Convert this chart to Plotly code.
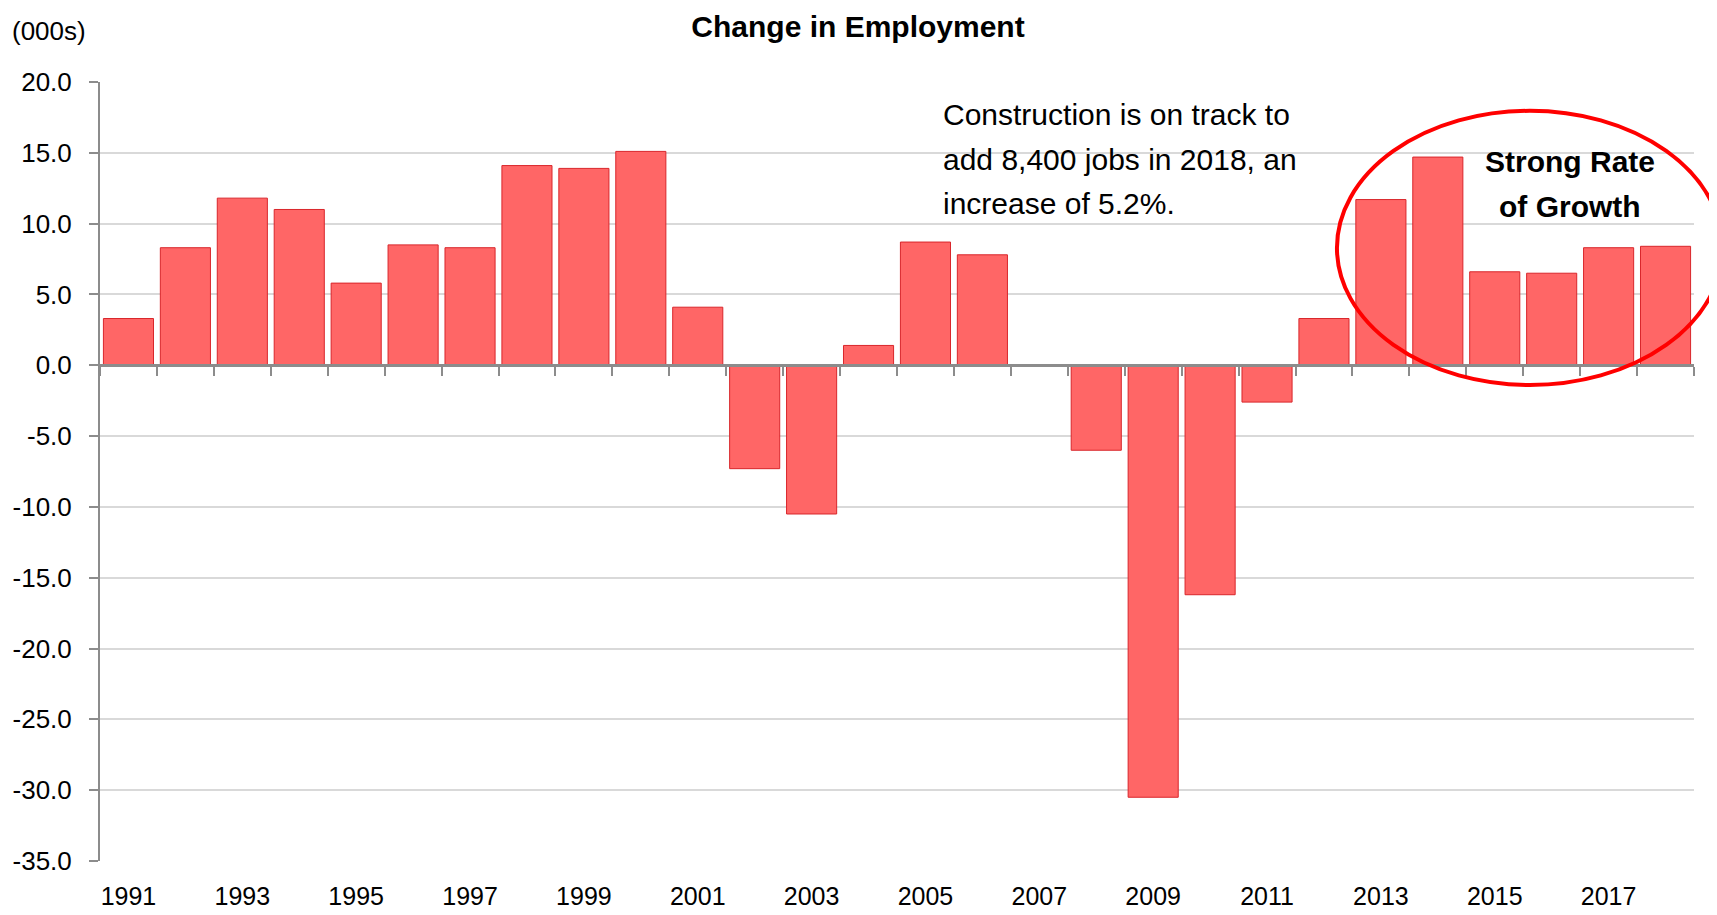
import plotly.graph_objects as go

years = list(range(1991, 2019))
change = [3.3, 8.3, 11.8, 11.0, 5.8, 8.5, 8.3, 14.1, 13.9, 15.1,
          4.1, -7.3, -10.5, 1.4, 8.7, 7.8, 0.0, -6.0, -30.5, -16.2,
          -2.6, 3.3, 11.7, 14.7, 6.6, 6.5, 8.3, 8.4]
label_years = [y for y in years if y % 2 == 1]
y_ticks = [20, 15, 10, 5, 0, -5, -10, -15, -20, -25, -30, -35]
note_lines = ["Construction is on track to", "add 8,400 jobs in 2018, an", "increase of 5.2%."]
callout_lines = ["Strong Rate", "of Growth"]

FONT = "Liberation Sans, Arial, sans-serif"
boundaries = [years[0] - 0.5] + [y + 0.5 for y in years]
xr = [years[0] - 0.5, years[-1] + 0.5]
yr = [min(y_ticks), max(y_ticks)]

# page body has an 8px margin; size the figure so the plot area lands where the reference has it
W, H, OFF = 1709, 907, 8
PW, PH = 1594, 779  # plot area size in px

fig = go.Figure()
fig.add_trace(go.Bar(
    x=years, y=change,
    marker=dict(color="#ff6666", line=dict(color="#d9262b", width=1)),
    width=0.88, showlegend=False, hoverinfo="x+y",
))
fig.add_trace(go.Scatter(x=xr, y=[0, 0], xaxis="x2", mode="lines",
                         line=dict(width=0), showlegend=False, hoverinfo="skip"))

annotations = [
    dict(text="(000s)", xref="paper", yref="paper", x=-90 / PW, y=1 + 51 / PH,
         xanchor="left", yanchor="middle", showarrow=False,
         font=dict(size=26, family=FONT)),
]
for i, line in enumerate(note_lines):
    annotations.append(dict(text=line, xref="paper", yref="paper",
                            x=(941 - 100) / PW, y=(861 - (114 + 45 * i)) / PH,
                            xanchor="left", yanchor="middle", showarrow=False,
                            font=dict(size=30, family=FONT)))
for i, line in enumerate(callout_lines):
    annotations.append(dict(text=f"<b>{line}</b>", xref="paper", yref="paper",
                            x=(1570 - 100) / PW, y=(861 - (162 + 44 * i)) / PH,
                            xanchor="center", yanchor="middle", showarrow=False,
                            font=dict(size=30, family=FONT)))

fig.update_layout(
    width=W, height=H,
    margin=dict(l=92, r=23, t=74, b=54, autoexpand=False),
    paper_bgcolor="white", plot_bgcolor="white",
    font=dict(family=FONT, color="black"),
    xaxis=dict(range=xr, tickvals=label_years, ticktext=[str(y) for y in label_years],
               showgrid=False, zeroline=False, showline=False, ticks="",
               tickfont=dict(size=25, family=FONT), ticklabelstandoff=18),
    xaxis2=dict(overlaying="x", anchor="free", position=(0 - yr[0]) / (yr[1] - yr[0]),
                range=xr, side="bottom", showline=True, linecolor="#8c8c8c", linewidth=3,
                ticks="outside", tickvals=boundaries, ticklen=9, tickwidth=2,
                tickcolor="#8c8c8c", showticklabels=False, showgrid=False, zeroline=False),
    yaxis=dict(range=yr, tickvals=y_ticks, ticktext=[f"{v:.1f}" for v in y_ticks],
               showgrid=True, gridcolor="#d9d9d9", gridwidth=2,
               zeroline=False, showline=True, linecolor="#8c8c8c", linewidth=2,
               ticks="outside", ticklen=9, tickwidth=2, tickcolor="#8c8c8c",
               tickfont=dict(size=26, family=FONT), ticklabelstandoff=12),
    title=dict(text="<b>Change in Employment</b>", x=(858 - OFF) / W, xanchor="center",
               y=1 - (26 - OFF) / H, yanchor="middle", font=dict(size=30, family=FONT)),
    shapes=[dict(type="circle", xref="paper", yref="paper",
                 x0=0.776, x1=1.018, y0=0.611, y1=0.963,
                 line=dict(color="#ff0000", width=4), layer="above")],
    annotations=annotations,
)

fig.write_html("out.html")
